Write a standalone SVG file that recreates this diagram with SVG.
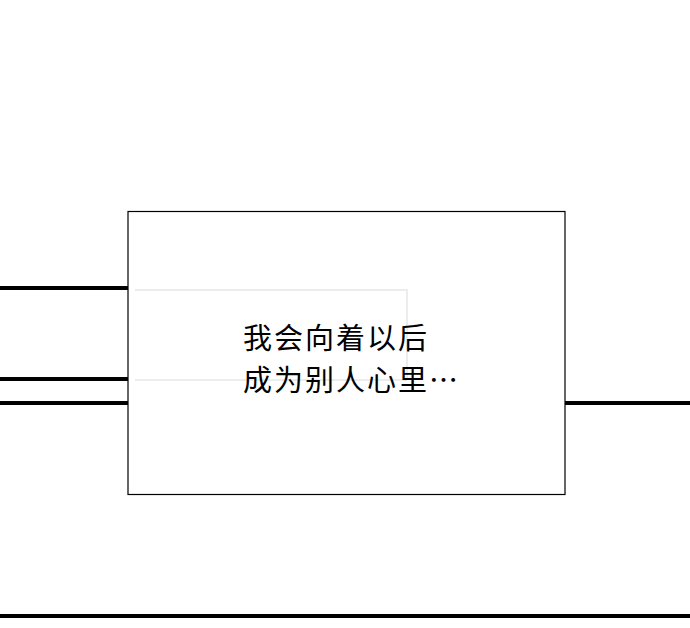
<svg xmlns="http://www.w3.org/2000/svg" width="690" height="628" viewBox="0 0 690 628">
<style>
.thick{stroke:#000;stroke-width:4;fill:none}
.faint{stroke:#ececec;stroke-width:2;fill:none}
.t{font-family:"Noto Sans CJK SC","Noto Sans",sans-serif;font-size:29px;letter-spacing:2px;fill:#000}
</style>
<rect width="690" height="628" fill="#fff"/>
<g id="lines">
<line class="thick" x1="0" y1="288" x2="128" y2="288"/>
<line class="thick" x1="0" y1="379" x2="128" y2="379"/>
<line class="thick" x1="0" y1="403" x2="128" y2="403"/>
<line class="thick" x1="565" y1="403" x2="690" y2="403"/>
<line class="thick" x1="0" y1="616" x2="690" y2="616"/>
</g>
<g id="box">
<rect x="128" y="211.5" width="437" height="283" fill="#fff" stroke="#000" stroke-width="1.2"/>
<path class="faint" d="M135 290 H407 V380 M135 380 H407"/>
<text class="t" x="243" y="349">我会向着以后</text>
<text class="t" x="243" y="391">成为别人心里…</text>
</g>
</svg>
